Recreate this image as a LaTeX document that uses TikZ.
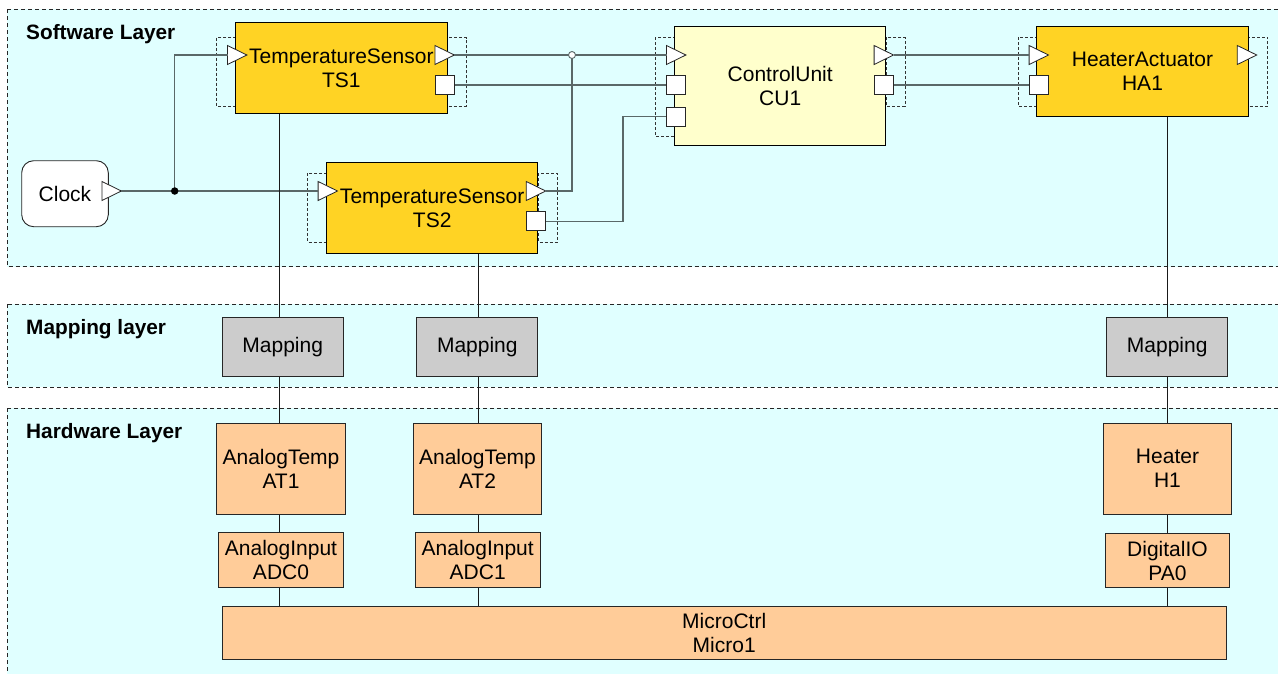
\documentclass[tikz,border=0pt]{standalone}
\usepackage{fontspec}
\setmainfont{Liberation Sans}
\usetikzlibrary{calc}
\definecolor{layerfill}{HTML}{E0FFFF}
\definecolor{gold}{HTML}{FFD324}
\definecolor{cuyellow}{HTML}{FFFFCC}
\definecolor{mapgray}{HTML}{CCCCCC}
\definecolor{hwpeach}{HTML}{FFCC99}
\definecolor{connc}{HTML}{5A6868}
\newcommand\PortTri[3]{\node[triport] (#1) at (#2,#3) {};\draw[trishape] (#1.north west) -- (#1.east) -- (#1.south west) -- cycle;}
\begin{document}
\begin{tikzpicture}[x=1pt,y=-1pt,
  every node/.style={font=\fontsize{21}{24}\selectfont},
  layer/.style={draw=black!85, dash pattern=on 4pt off 3pt, fill=layerfill, line width=0.8pt},
  layerlabel/.style={anchor=base west, inner sep=0, font=\fontsize{20.8}{24}\selectfont\bfseries},
  portframe/.style={draw=black!80, dash pattern=on 3pt off 2pt, line width=0.7pt},
  triport/.style={rectangle, inner sep=0, minimum width=19pt, minimum height=18.6pt},
  trishape/.style={draw=black!85, fill=white, line width=0.8pt, line join=miter},
  sqport/.style={rectangle, draw=black!85, fill=white, inner sep=0, minimum size=19pt, line width=0.8pt},
  comp/.style={rectangle, draw=black, fill=gold, line width=1pt, inner sep=0, align=center, minimum width=211.5pt, minimum height=90.6pt},
  mapbox/.style={rectangle, draw=black!85, fill=mapgray, line width=1pt, inner sep=0, minimum width=121pt, minimum height=59pt},
  hwbox/.style={rectangle, draw=black!85, fill=hwpeach, line width=1pt, inner sep=0, align=center},
  conn/.style={draw=connc, line width=1.3pt},
  vline/.style={draw=black!90, line width=0.9pt},
  dot/.style={circle, fill=black, inner sep=0, minimum size=7.5pt},
  opendot/.style={circle, draw=connc, fill=white, line width=0.9pt, inner sep=0, minimum size=7pt}
]
\useasboundingbox (0,0) rectangle (1278,673);
\fill[white] (0,0) rectangle (1278,673);

% layers
\path[layer] (7,9.3) rectangle (1295,266.7);
\path[layer] (7,304) rectangle (1295,387);
\path[layer] (7,408) rectangle (1295,690);
\node[layerlabel] (lsw) at (26,39) {Software Layer};
\node[layerlabel] (lmap) at (26,334) {Mapping layer};
\node[layerlabel] (lhw) at (26,438) {Hardware Layer};

% port frames
\path[portframe] (216.7,37.7) rectangle (235.7,106);
\path[portframe] (447,37.7) rectangle (466,106);
\path[portframe] (307.3,173.3) rectangle (326,242);
\path[portframe] (538.3,173.3) rectangle (557.3,242);
\path[portframe] (655,37.3) rectangle (674.3,136);
\path[portframe] (886,37.3) rectangle (905,106);
\path[portframe] (1018,37.3) rectangle (1036.7,106);
\path[portframe] (1248.3,37.3) rectangle (1267.7,106);

% software components
\node[draw=black!85, fill=white, rounded corners=12pt, line width=0.9pt, inner sep=0, minimum width=86.6pt, minimum height=66pt] (clock) at (65,193.7) {Clock};
\node[comp] (ts1) at (341.3,68) {TemperatureSensor\\TS1};
\node[comp] (ts2) at (432.2,208) {TemperatureSensor\\TS2};
\node[comp, fill=cuyellow, minimum height=119.3pt] (cu1) at (780.2,85.7) {ControlUnit\\CU1};
\node[comp, minimum height=90pt] (ha1) at (1142.5,71.7) {HeaterActuator\\HA1};

% mapping
\node[mapbox] (map1) at (282.7,346.8) {Mapping};
\node[mapbox] (map2) at (477.3,346.8) {Mapping};
\node[mapbox] (map3) at (1167.2,346.8) {Mapping};

% hardware
\node[hwbox, minimum width=128.6pt, minimum height=90.7pt] (at1) at (281,468.7) {AnalogTemp\\AT1};
\node[hwbox, minimum width=128.6pt, minimum height=90.7pt] (at2) at (477.5,468.7) {AnalogTemp\\AT2};
\node[hwbox, minimum width=128.4pt, minimum height=90.7pt] (heater) at (1167.5,468.7) {Heater\\H1};
\node[hwbox, minimum width=124.6pt, minimum height=55pt] (adc0) at (281,560.2) {AnalogInput\\ADC0};
\node[hwbox, minimum width=124.6pt, minimum height=55pt] (adc1) at (477.7,560.2) {AnalogInput\\ADC1};
\node[hwbox, minimum width=124.4pt, minimum height=54.4pt] (dio) at (1167.5,560.5) {DigitalIO\\PA0};
\node[hwbox, minimum width=1003.7pt, minimum height=52.6pt] (micro) at (724.2,633) {MicroCtrl\\Micro1};

% ports
\PortTri{clkout}{111.7}{191}
\PortTri{ts1in}{237.2}{55}
\PortTri{ts1out}{444.7}{55}
\node[sqport] (ts1sq) at (445.3,85) {};
\PortTri{ts2in}{327.8}{191}
\PortTri{ts2out}{536}{191}
\node[sqport] (ts2sq) at (536.2,221.2) {};
\PortTri{cu1in}{676.2}{55}
\node[sqport] (cu1sqa) at (676.2,85) {};
\node[sqport] (cu1sqb) at (676.2,116.8) {};
\PortTri{cu1out}{883.8}{55}
\node[sqport] (cu1sqo) at (883.8,85) {};
\PortTri{ha1in}{1038.8}{55}
\node[sqport] (ha1sq) at (1038.8,85) {};
\PortTri{ha1out}{1247}{55}

% connectors (software)
\coordinate (jn1) at (174.7,191);
\coordinate (jn2) at (572,55);
\coordinate (bend) at (623,116.8);
\draw[conn] (clkout.east) -- (ts2in.west);
\draw[conn] (jn1) |- (ts1in.west);
\draw[conn] (ts1out.east) -- (cu1in.west);
\draw[conn] (ts2out.east) -| (jn2);
\draw[conn] (ts1sq.east) -- (cu1sqa.west);
\draw[conn] (ts2sq.east) -| (bend) -- (cu1sqb.west);
\draw[conn] (cu1out.east) -- (ha1in.west);
\draw[conn] (cu1sqo.east) -- (ha1sq.west);
\node[dot] (jn1d) at (jn1) {};
\node[opendot] (jn2d) at (jn2) {};

% vertical connectors
\coordinate (c1) at (279.8,0);
\coordinate (c2) at (478.6,0);
\coordinate (c3) at (1167.3,0);
\draw[vline] (ts1.south -| c1) -- (map1.north -| c1);
\draw[vline] (map1.south -| c1) -- (at1.north -| c1);
\draw[vline] (at1.south -| c1) -- (adc0.north -| c1);
\draw[vline] (adc0.south -| c1) -- (micro.north -| c1);
\draw[vline] (ts2.south -| c2) -- (map2.north -| c2);
\draw[vline] (map2.south -| c2) -- (at2.north -| c2);
\draw[vline] (at2.south -| c2) -- (adc1.north -| c2);
\draw[vline] (adc1.south -| c2) -- (micro.north -| c2);
\draw[vline] (ha1.south -| c3) -- (map3.north -| c3);
\draw[vline] (map3.south -| c3) -- (heater.north -| c3);
\draw[vline] (heater.south -| c3) -- (dio.north -| c3);
\draw[vline] (dio.south -| c3) -- (micro.north -| c3);
\end{tikzpicture}
\end{document}
